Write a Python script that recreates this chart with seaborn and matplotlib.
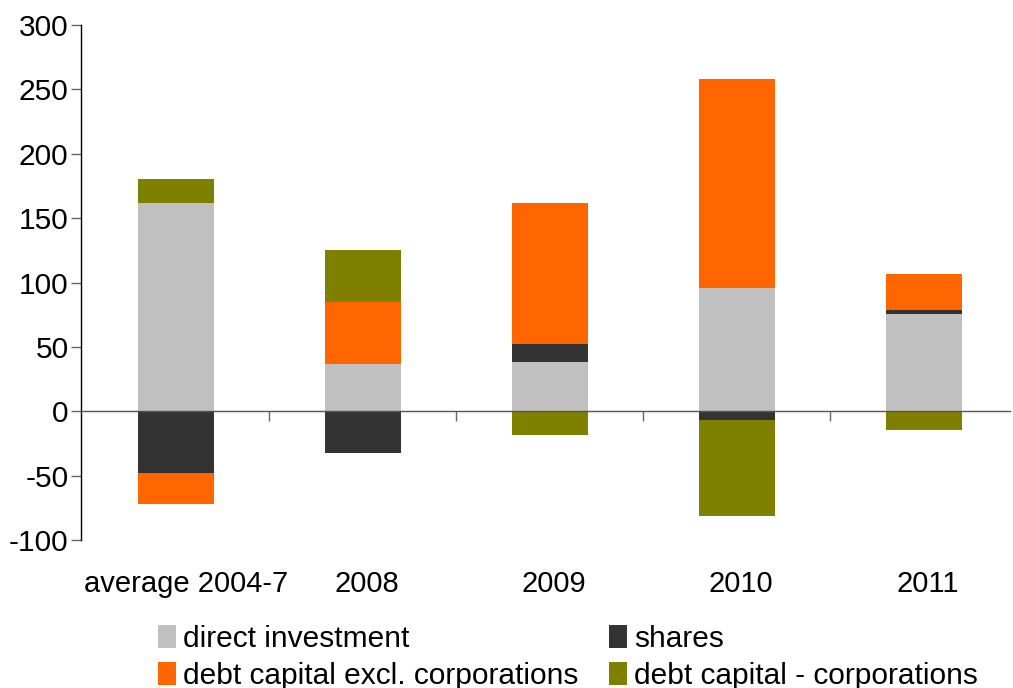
import numpy as np
import pandas as pd
import seaborn as sns
import matplotlib
matplotlib.use("Agg")
import matplotlib.pyplot as plt
from matplotlib.patches import Patch

categories = ["average 2004-7", "2008", "2009", "2010", "2011"]
series_names = ["direct investment", "shares",
                "debt capital excl. corporations", "debt capital - corporations"]
direct_investment = [162, 36.5, 38, 96, 75.5]
shares = [-48, -32, 14, -6.5, 3]
debt_excl_corp = [-24, 48, 109.5, 162, 28]
debt_corp = [18.5, 40.5, -18, -74.5, -14.2]
colors = ["#c0c0c0", "#333333", "#ff6600", "#808000"]

sns.set_theme(style="white")
plt.rcParams['font.family'] = ['Liberation Sans', 'DejaVu Sans']
plt.rcParams['axes.unicode_minus'] = False

fig = plt.figure(figsize=(10.13, 6.88), dpi=100)
ax = fig.add_axes([81 / 1013, 1 - 540.3 / 688, (1010 - 81) / 1013, (540.3 - 24.7) / 688])

pos_base = np.zeros(len(categories))
neg_base = np.zeros(len(categories))
for name, vals, col in zip(series_names,
                           [direct_investment, shares, debt_excl_corp, debt_corp],
                           colors):
    vals = np.array(vals, dtype=float)
    bottoms = np.where(vals >= 0, pos_base, neg_base)
    df = pd.DataFrame({"cat": categories, "val": vals})
    sns.barplot(data=df, x="cat", y="val", order=categories, color=col,
                saturation=1, width=0.405, bottom=bottoms, ax=ax,
                linewidth=0, errorbar=None)
    pos_base = pos_base + np.where(vals >= 0, vals, 0)
    neg_base = neg_base + np.where(vals < 0, vals, 0)

ax.set_xlim(-0.508, 4.46)
ax.set_ylim(-100, 300)
ax.set_yticks(np.arange(-100, 301, 50))
ax.set_xlabel("")
ax.set_ylabel("")

for s in ["top", "right"]:
    ax.spines[s].set_visible(False)
ax.spines["left"].set_color("black")
ax.spines["left"].set_linewidth(1.0)
ax.spines["bottom"].set_position(("data", 0))
ax.spines["bottom"].set_color("#555555")
ax.spines["bottom"].set_linewidth(1.0)

ax.tick_params(axis="y", which="major", left=True, length=7, width=1,
               color="#666666", labelsize=21.5, labelcolor="black", pad=2)
ax.set_xticks(range(len(categories)))
ax.set_xticklabels(categories)
ax.tick_params(axis="x", which="major", bottom=True, length=0, labelsize=21,
               labelcolor="black", pad=114)
ax.set_xticks(np.arange(0.5, len(categories) - 0.5, 1), minor=True)
ax.tick_params(axis="x", which="minor", bottom=True, length=7, width=1,
               color="#666666", direction="out")
# reference labels sit slightly right of bar centres
import matplotlib.transforms as mtransforms
for i, lab in enumerate(ax.get_xticklabels()):
    dx = 10 if i == 0 else 4
    lab.set_transform(lab.get_transform() + mtransforms.ScaledTranslation(dx / 100, 0, fig.dpi_scale_trans))

# legend filled row by row: reorder for matplotlib's column-major filling
order = [0, 2, 1, 3]
handles = [Patch(facecolor=colors[i], edgecolor="none") for i in order]
labels = [series_names[i] for i in order]
leg = fig.legend(handles, labels, loc="upper left", bbox_to_anchor=(158 / 1013, 1 - 625 / 688),
                 ncol=2, frameon=False, fontsize=21.5, handlelength=0.6, handleheight=0.8,
                 handletextpad=0.25, columnspacing=1.0, labelspacing=0.3, borderaxespad=0,
                 borderpad=0)
for t in leg.get_texts():
    t.set_color("black")

fig.savefig("out.png", dpi=100)
